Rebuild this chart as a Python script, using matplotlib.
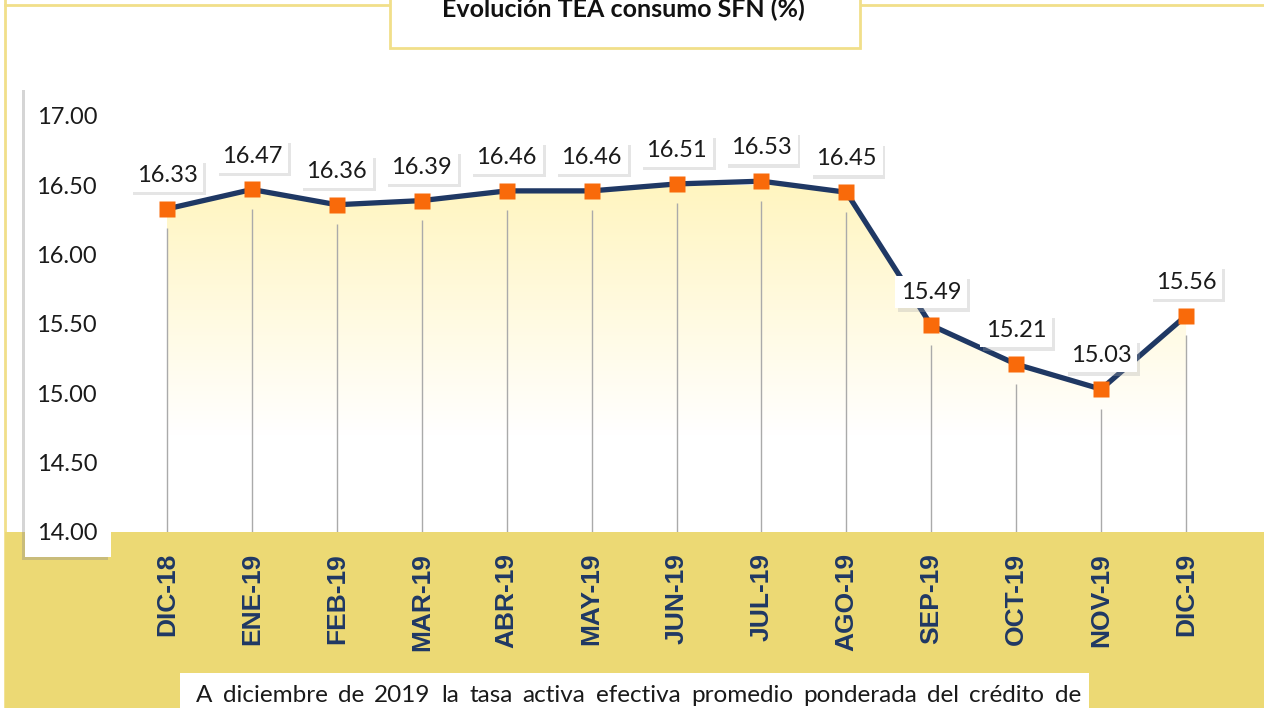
import numpy as np
import matplotlib
matplotlib.use("Agg")
import matplotlib.pyplot as plt
import matplotlib.patheffects as pe
from matplotlib.patches import Rectangle
from matplotlib.lines import Line2D
from matplotlib.colors import LinearSegmentedColormap

# data
MONTHS = ["DIC-18", "ENE-19", "FEB-19", "MAR-19", "ABR-19", "MAY-19", "JUN-19",
          "JUL-19", "AGO-19", "SEP-19", "OCT-19", "NOV-19", "DIC-19"]
TEA = [16.33, 16.47, 16.36, 16.39, 16.46, 16.46, 16.51,
       16.53, 16.45, 15.49, 15.21, 15.03, 15.56]
YTICKS = [14.00, 14.50, 15.00, 15.50, 16.00, 16.50, 17.00]
TITLE = "Evolución TEA consumo SFN (%)"
NOTE = ("A diciembre de 2019 la tasa activa efectiva promedio ponderada "
        "del crédito de")

NAVY = "#1F3864"
ORANGE = "#F96A0A"
GOLD = "#ECD974"
BORDER = "#F1DF8A"
W, H = 1264, 708

def fx(x): return x / W
def fy(y): return 1 - y / H

fig = plt.figure(figsize=(W / 100, H / 100), dpi=100, facecolor="white")

# frame lines + bottom band
fig.add_artist(Line2D([fx(5), fx(5)], [fy(0), fy(708)], color=BORDER, lw=2,
                      transform=fig.transFigure, zorder=-3))
fig.add_artist(Line2D([fx(5), fx(390)], [fy(5), fy(5)], color=BORDER, lw=2,
                      transform=fig.transFigure, zorder=-3))
fig.add_artist(Line2D([fx(860), fx(1264)], [fy(5), fy(5)], color=BORDER, lw=2,
                      transform=fig.transFigure, zorder=-3))
fig.add_artist(Rectangle((fx(5), 0), 1 - fx(5), fy(532), color=GOLD, lw=0,
                         transform=fig.transFigure, zorder=-2))

# y axis panel with shadow
fig.add_artist(Rectangle((fx(22), fy(560)), fx(86), fy(90) - fy(560),
                         color="#888888", alpha=0.35, lw=0,
                         transform=fig.transFigure, zorder=-1.5))
fig.add_artist(Rectangle((fx(25), fy(557)), fx(86), fy(90) - fy(557),
                         color="white", lw=0,
                         transform=fig.transFigure, zorder=-1))

ax = fig.add_axes([fx(111), fy(532), 1 - fx(111), fy(116) - fy(532)])
ax.set_facecolor("none")
x = np.arange(len(MONTHS))
ax.set_xlim((111 - 167) / 84.92, (1264 - 167) / 84.92)
ax.set_ylim(YTICKS[0], YTICKS[-1])
for s in ax.spines.values():
    s.set_visible(False)

# gradient fill under the line
cmap = LinearSegmentedColormap.from_list("fillgrad", ["white", "#FFF5C0"])
grad = np.linspace(0, 1, 256).reshape(-1, 1)
fb = ax.fill_between(x, TEA, YTICKS[0], facecolor="none", lw=0)
im = ax.imshow(grad, cmap=cmap, aspect="auto", origin="lower",
               extent=[x[0], x[-1], 14.7, 16.5], vmin=0, vmax=1, zorder=1)
im.set_clip_path(fb.get_paths()[0], transform=ax.transData)

# drop lines
ax.vlines(x, YTICKS[0], np.array(TEA) - 0.14, color="#AAAAAA", lw=1, zorder=2)

ax.plot(x, TEA, color=NAVY, lw=3.8, marker="s", ms=11, mfc=ORANGE, mec="none",
        zorder=3, clip_on=False)

for i, v in enumerate(TEA):
    t = ax.annotate(f"{v:.2f}", (i, v), xytext=(0, 24), textcoords="offset points",
                    ha="center", va="center", fontsize=17, family="Lato",
                    color="#1a1a1a", zorder=4,
                    bbox=dict(boxstyle="square,pad=0.25", fc="white", ec="none"))
    t.get_bbox_patch().set_path_effects(
        [pe.SimplePatchShadow(offset=(2, -2.5), shadow_rgbFace="#aaaaaa", alpha=0.3),
         pe.Normal()])

ax.set_xticks(x)
ax.set_xticklabels(MONTHS, rotation=90, fontsize=19, fontweight="bold",
                   color=NAVY, family=["Liberation Sans", "DejaVu Sans"])
ax.set_yticks(YTICKS)
ax.set_yticklabels([f"{t:.2f}" for t in YTICKS], fontsize=17, family="Lato",
                   color="#1a1a1a")
ax.tick_params(axis="x", length=0, pad=15)
ax.tick_params(axis="y", length=0, pad=10)

# title box
fig.add_artist(Rectangle((fx(390), fy(48)), fx(470), fy(-5) - fy(48),
                         fc="white", ec=BORDER, lw=2,
                         transform=fig.transFigure, zorder=2))
fig.text(fx(623), fy(17), TITLE, ha="center", va="baseline", fontsize=18,
         fontweight="bold", family="Lato", color="#111111", zorder=3)

# note box with justified words
fig.add_artist(Rectangle((fx(180), fy(712)), fx(909), fy(673) - fy(712),
                         fc="white", ec="none",
                         transform=fig.transFigure, zorder=2))
renderer = fig.canvas.get_renderer()
words = NOTE.split()
texts = [fig.text(0, fy(702), w, ha="left", va="baseline", fontsize=17.5,
                  family="Lato", color="#1a1a1a", zorder=3) for w in words]
widths = [t.get_window_extent(renderer).width for t in texts]
gap = (1081 - 196 - sum(widths)) / (len(words) - 1)
xpos = 196
for t, w in zip(texts, widths):
    t.set_x(fx(xpos))
    xpos += w + gap

fig.savefig("out.png", dpi=100)
